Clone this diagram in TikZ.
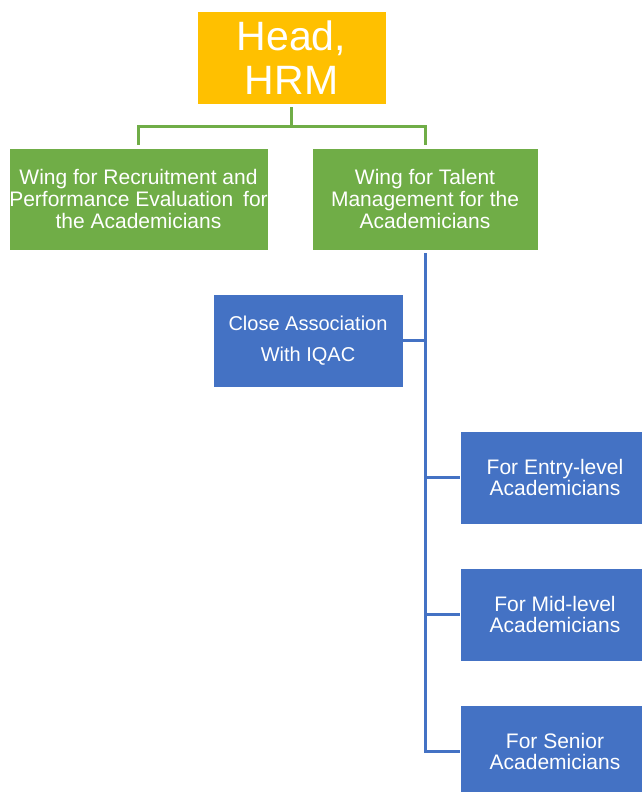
\documentclass[tikz,border=0pt]{standalone}
\usepackage{fontspec}
\setmainfont{Liberation Sans}
\begin{document}
\begin{tikzpicture}[x=1pt,y=-1pt,
  box/.style={rectangle, inner sep=0pt, draw=white, line width=0.8pt,
    text=white, align=center, font=\fontsize{21}{21.7}\selectfont},
  headbox/.style={box, fill=headorange, minimum width=189pt, minimum height=93pt,
    font=\fontsize{41}{43.5}\selectfont},
  wingbox/.style={box, fill=winggreen, minimum height=102pt},
  unitbox/.style={box, fill=unitblue, minimum width=190pt, minimum height=93pt},
  gline/.style={draw=winggreen, line width=3pt, shorten <=3pt, shorten >=3pt},
  bline/.style={draw=unitblue, line width=3pt}
]
\definecolor{headorange}{HTML}{FFC000}
\definecolor{winggreen}{HTML}{70AD47}
\definecolor{unitblue}{HTML}{4472C4}

\useasboundingbox (0,0) rectangle (642,792);
\clip (0,0) rectangle (642,792);

% top of the hierarchy
\node[headbox] (head) at (291.5,57.5) {Head,\\HRM};

% the two wings
\node[wingbox, minimum width=259pt] (recruit) at (138.5,199)
  {Wing for Recruitment and\\Performance Evaluation\hspace{4pt} for\\the Academicians};
\node[wingbox, minimum width=226pt] (talent) at (425,199)
  {Wing for Talent\\Management for the\\Academicians};

% units under the talent management wing
\node[unitbox, font=\fontsize{20}{30.5}\selectfont] (iqac) at (308,340.5)
  {Close Association\\With IQAC};
\node[unitbox] (entry) at (555,477.5) {For Entry-level\\Academicians};
\node[unitbox] (mid) at (555,614.5) {For Mid-level\\Academicians};
\node[unitbox] (senior) at (555,751.5) {For Senior\\Academicians};

% head to wings
\draw[gline] (head.south) -- ++(0,22) -| (recruit.north);
\draw[gline] (head.south) -- ++(0,22) -| (talent.north);

% talent wing trunk and branches
\draw[bline, shorten <=3pt] (talent.south) |- (senior.west);
\draw[bline] (talent.south |- iqac.east) -- (iqac.east);
\draw[bline] (talent.south |- entry.west) -- (entry.west);
\draw[bline] (talent.south |- mid.west) -- (mid.west);
\end{tikzpicture}
\end{document}
